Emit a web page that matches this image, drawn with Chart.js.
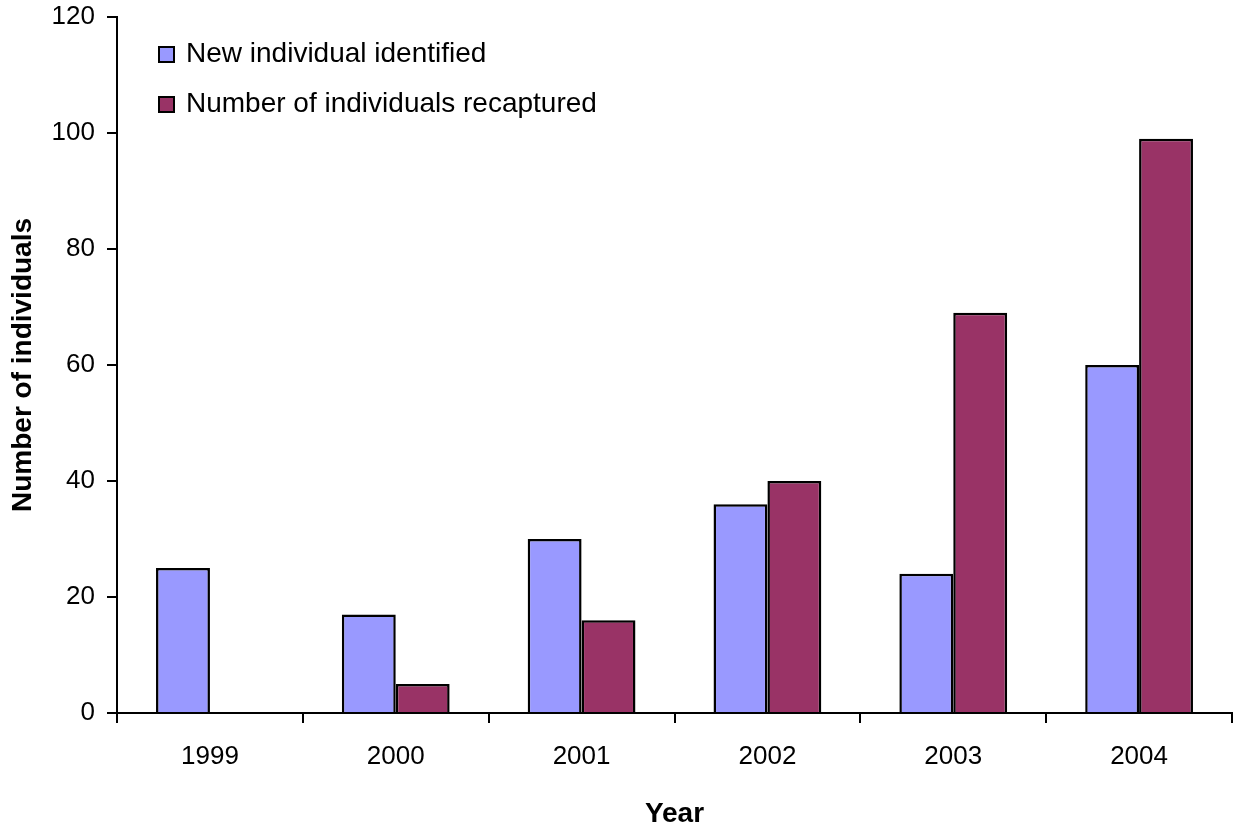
<!DOCTYPE html>
<html>
<head>
<meta charset="utf-8">
<script src="https://cdn.jsdelivr.net/npm/chart.js@4/dist/chart.umd.min.js"></script>
<style>
  html, body { margin: 0; padding: 0; background: #ffffff; }
  #wrap { width: 1233px; height: 825px; }
</style>
</head>
<body>
<div id="wrap"><canvas id="chart" width="1233" height="825"></canvas></div>
<script>
// Yearly counts of individuals
const years = ['1999', '2000', '2001', '2002', '2003', '2004'];
const newIdentified = [25, 17, 30, 36, 24, 60];
const recaptured = [0, 5, 16, 40, 69, 99];
const seriesNames = ['New individual identified', 'Number of individuals recaptured'];
const yTicks = [0, 20, 40, 60, 80, 100, 120];

const FONT = '"Liberation Sans", Arial, Helvetica, sans-serif';

// Legend drawn as a stacked list inside the plot area, top-left
const insideLegend = {
  id: 'insideLegend',
  afterDraw(chart) {
    const ctx = chart.ctx;
    const x0 = chart.chartArea.left + 42;
    const rows = [54, 104];
    ctx.save();
    chart.data.datasets.forEach((ds, i) => {
      const cy = rows[i];
      ctx.fillStyle = ds.backgroundColor;
      ctx.fillRect(x0, cy - 7, 15, 15);
      ctx.lineWidth = 2;
      ctx.strokeStyle = '#000000';
      ctx.strokeRect(x0, cy - 7, 15, 15);
      ctx.fillStyle = '#000000';
      ctx.font = '28px ' + FONT;
      ctx.textBaseline = 'middle';
      ctx.textAlign = 'left';
      ctx.fillText(ds.label, x0 + 27, cy);
    });
    ctx.restore();
  }
};

new Chart(document.getElementById('chart'), {
  type: 'bar',
  data: {
    labels: years,
    datasets: [
      {
        label: seriesNames[0],
        data: newIdentified,
        backgroundColor: '#9999FF',
        borderColor: '#000000',
        borderWidth: 2.5,
        barPercentage: 1,
        categoryPercentage: 0.58
      },
      {
        label: seriesNames[1],
        data: recaptured,
        backgroundColor: '#993366',
        borderColor: '#000000',
        borderWidth: 2.5,
        barPercentage: 1,
        categoryPercentage: 0.58
      }
    ]
  },
  options: {
    responsive: false,
    animation: false,
    devicePixelRatio: 1,
    layout: { padding: { top: 17, right: 1, bottom: 0, left: 0 } },
    plugins: {
      legend: { display: false },
      tooltip: { enabled: false }
    },
    scales: {
      x: {
        offset: true,
        grid: {
          offset: true,
          drawOnChartArea: false,
          drawTicks: true,
          tickLength: 10,
          color: '#000000',
          lineWidth: 2
        },
        border: { display: true, color: '#000000', width: 2 },
        ticks: {
          color: '#000000',
          font: { family: FONT, size: 26 },
          padding: 18,
          maxRotation: 0
        },
        title: {
          display: true,
          text: 'Year',
          color: '#000000',
          font: { family: FONT, size: 28, weight: 'bold', lineHeight: 0.8 },
          padding: { top: 0, bottom: 0 }
        },
        afterFit(axis) { axis.height = 112; }
      },
      y: {
        min: 0,
        max: 120,
        afterBuildTicks(axis) { axis.ticks = yTicks.map(v => ({ value: v })); },
        grid: {
          drawOnChartArea: false,
          drawTicks: true,
          tickLength: 10,
          color: '#000000',
          lineWidth: 2
        },
        border: { display: true, color: '#000000', width: 2 },
        ticks: {
          color: '#000000',
          font: { family: FONT, size: 26 },
          padding: 12
        },
        title: {
          display: true,
          text: 'Number of individuals',
          color: '#000000',
          font: { family: FONT, size: 28, weight: 'bold' },
          padding: { top: 6, bottom: 0 }
        },
        afterFit(axis) {
          axis.width = 117;
          axis.paddingTop = 0;
          axis.paddingBottom = 0;
        }
      }
    }
  },
  plugins: [insideLegend]
});
</script>
</body>
</html>
